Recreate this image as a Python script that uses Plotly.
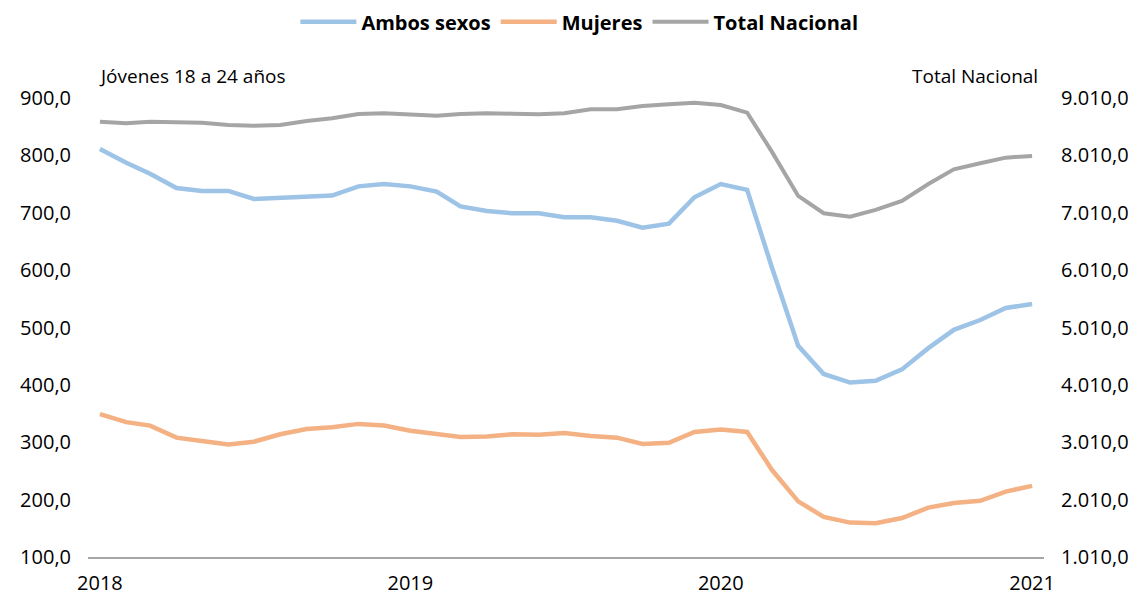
import plotly.graph_objects as go

# Monthly categories Jan 2018 .. Jan 2021
meses = [f"{2018 + i // 12}-{i % 12 + 1:02d}-01" for i in range(37)]

ambos_sexos = [811, 787, 768, 743, 738, 738, 724, 726, 728, 730, 746, 750, 746, 737,
               711, 703, 699, 699, 692, 692, 686, 674, 681, 727, 750, 740,
               605, 468, 419, 404, 407, 427, 464, 496, 513, 534, 541]

mujeres = [349, 335, 329, 308, 302, 296, 301, 314, 323, 326, 332, 329, 320, 314,
           309, 310, 314, 313, 316, 311, 308, 297, 299, 318, 322, 318,
           252, 197, 170, 160, 159, 168, 186, 194, 198, 214, 224]

total_nacional = [8597, 8569, 8597, 8587, 8580, 8540, 8527, 8540, 8609, 8656, 8731, 8743,
                  8726, 8702, 8731, 8743, 8737, 8726, 8743, 8813, 8813, 8871, 8900, 8928,
                  8888, 8754, 8075, 7303, 7001, 6942, 7059, 7216, 7512, 7768, 7873, 7970, 8000]

left_ticks = [100, 200, 300, 400, 500, 600, 700, 800, 900]
left_labels = ["100,0", "200,0", "300,0", "400,0", "500,0", "600,0", "700,0", "800,0", "900,0"]
right_ticks = [1010, 2010, 3010, 4010, 5010, 6010, 7010, 8010, 9010]
right_labels = ["1.010,0", "2.010,0", "3.010,0", "4.010,0", "5.010,0", "6.010,0",
                "7.010,0", "8.010,0", "9.010,0"]
year_ticks = ["2018-01-01", "2019-01-01", "2020-01-01", "2021-01-01"]
year_labels = ["2018", "2019", "2020", "2021"]

FONT = "Open Sans"

fig = go.Figure()
fig.add_trace(go.Scatter(x=meses, y=ambos_sexos, name="Ambos sexos", mode="lines",
                         line=dict(color="#9DC3E6", width=4.5)))
fig.add_trace(go.Scatter(x=meses, y=mujeres, name="Mujeres", mode="lines",
                         line=dict(color="#F4B183", width=4.5)))
fig.add_trace(go.Scatter(x=meses, y=total_nacional, name="Total Nacional", mode="lines",
                         line=dict(color="#A5A5A5", width=4), yaxis="y2"))

fig.update_layout(
    width=1146, height=597,
    margin=dict(l=88, r=102, t=98, b=40, autoexpand=False),
    paper_bgcolor="white", plot_bgcolor="white",
    font=dict(family=FONT, size=20, color="black"),
    showlegend=True,
    legend=dict(orientation="h", x=0.514, xanchor="center", y=1.166, yanchor="middle",
                itemwidth=56,
                font=dict(family=FONT, size=20, color="black", weight="bold"),
                bgcolor="rgba(0,0,0,0)"),
    xaxis=dict(type="date", range=["2017-12-18", "2021-01-15"],
               tickvals=year_ticks, ticktext=year_labels,
               showgrid=False, zeroline=False, showline=True,
               linecolor="#A6A6A6", linewidth=1.5, ticks="",
               ticklabelstandoff=7, automargin=False,
               tickfont=dict(family=FONT, size=20, color="black")),
    yaxis=dict(range=[100, 900], tickvals=left_ticks, ticktext=left_labels,
               showgrid=False, zeroline=False, showline=False, ticks="",
               ticklabelstandoff=16, automargin=False,
               tickfont=dict(family=FONT, size=20, color="black")),
    yaxis2=dict(range=[1010, 9010], tickvals=right_ticks, ticktext=right_labels,
                overlaying="y", side="right",
                showgrid=False, zeroline=False, showline=False, ticks="",
                ticklabelstandoff=16, automargin=False,
                tickfont=dict(family=FONT, size=20, color="black")),
    annotations=[
        dict(text="Jóvenes 18 a 24 años", xref="paper", yref="paper",
             x=0.0094, y=1.048, xanchor="left", yanchor="middle", showarrow=False,
             font=dict(family=FONT, size=19, color="black")),
        dict(text="Total Nacional", xref="paper", yref="paper",
             x=0.996, y=1.048, xanchor="right", yanchor="middle", showarrow=False,
             font=dict(family=FONT, size=19, color="black")),
    ],
)

fig.write_html("out.html")
